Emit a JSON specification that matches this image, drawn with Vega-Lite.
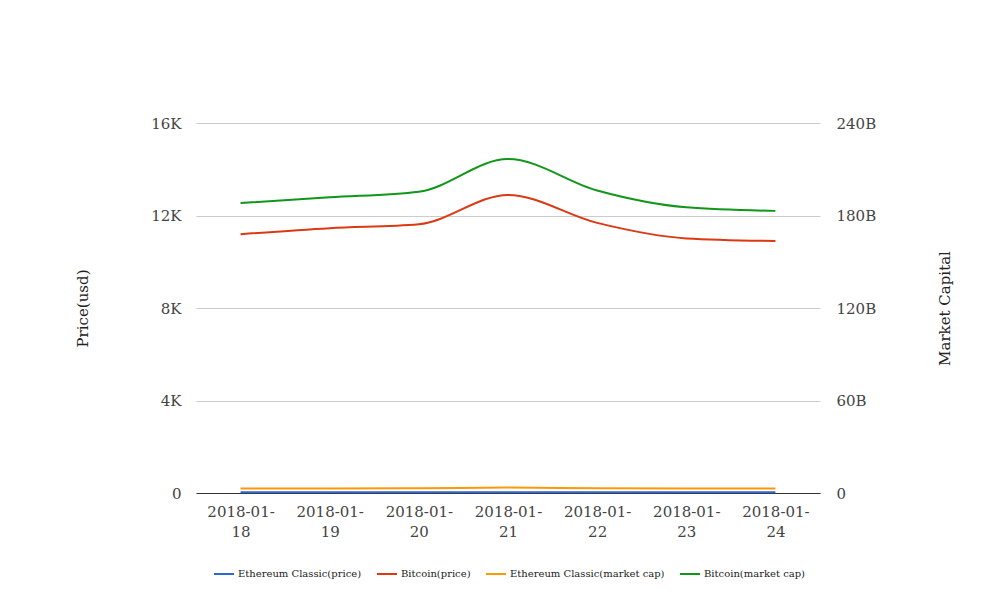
{
  "$schema": "https://vega.github.io/schema/vega-lite/v6.json",
  "width": 624,
  "height": 370,
  "autosize": {"type": "none"},
  "padding": {"left": 196, "top": 123, "right": 188, "bottom": 123},
  "background": "white",
  "config": {
    "font": "DejaVu Serif",
    "view": {"stroke": null},
    "axis": {"labelFont": "DejaVu Serif", "titleFont": "DejaVu Serif"},
    "legend": {"labelFont": "DejaVu Serif"}
  },
  "data": {
    "values": [
      {"date": "2018-01-18", "series": "Ethereum Classic(price)", "kind": "price", "value": 29},
      {"date": "2018-01-19", "series": "Ethereum Classic(price)", "kind": "price", "value": 30},
      {"date": "2018-01-20", "series": "Ethereum Classic(price)", "kind": "price", "value": 31},
      {"date": "2018-01-21", "series": "Ethereum Classic(price)", "kind": "price", "value": 35},
      {"date": "2018-01-22", "series": "Ethereum Classic(price)", "kind": "price", "value": 31},
      {"date": "2018-01-23", "series": "Ethereum Classic(price)", "kind": "price", "value": 29},
      {"date": "2018-01-24", "series": "Ethereum Classic(price)", "kind": "price", "value": 29},
      {"date": "2018-01-18", "series": "Bitcoin(price)", "kind": "price", "value": 11190},
      {"date": "2018-01-19", "series": "Bitcoin(price)", "kind": "price", "value": 11450},
      {"date": "2018-01-20", "series": "Bitcoin(price)", "kind": "price", "value": 11620},
      {"date": "2018-01-21", "series": "Bitcoin(price)", "kind": "price", "value": 12890},
      {"date": "2018-01-22", "series": "Bitcoin(price)", "kind": "price", "value": 11680},
      {"date": "2018-01-23", "series": "Bitcoin(price)", "kind": "price", "value": 11010},
      {"date": "2018-01-24", "series": "Bitcoin(price)", "kind": "price", "value": 10900},
      {"date": "2018-01-18", "series": "Ethereum Classic(market cap)", "kind": "cap", "value": 2900000000},
      {"date": "2018-01-19", "series": "Ethereum Classic(market cap)", "kind": "cap", "value": 3000000000},
      {"date": "2018-01-20", "series": "Ethereum Classic(market cap)", "kind": "cap", "value": 3100000000},
      {"date": "2018-01-21", "series": "Ethereum Classic(market cap)", "kind": "cap", "value": 3500000000},
      {"date": "2018-01-22", "series": "Ethereum Classic(market cap)", "kind": "cap", "value": 3100000000},
      {"date": "2018-01-23", "series": "Ethereum Classic(market cap)", "kind": "cap", "value": 2900000000},
      {"date": "2018-01-24", "series": "Ethereum Classic(market cap)", "kind": "cap", "value": 2900000000},
      {"date": "2018-01-18", "series": "Bitcoin(market cap)", "kind": "cap", "value": 188100000000},
      {"date": "2018-01-19", "series": "Bitcoin(market cap)", "kind": "cap", "value": 191800000000},
      {"date": "2018-01-20", "series": "Bitcoin(market cap)", "kind": "cap", "value": 195400000000},
      {"date": "2018-01-21", "series": "Bitcoin(market cap)", "kind": "cap", "value": 216600000000},
      {"date": "2018-01-22", "series": "Bitcoin(market cap)", "kind": "cap", "value": 196200000000},
      {"date": "2018-01-23", "series": "Bitcoin(market cap)", "kind": "cap", "value": 185300000000},
      {"date": "2018-01-24", "series": "Bitcoin(market cap)", "kind": "cap", "value": 183000000000}
    ]
  },
  "encoding": {
    "x": {
      "field": "date",
      "type": "ordinal",
      "scale": {"type": "point", "padding": 0.5},
      "axis": {
        "title": null,
        "labelAngle": 0,
        "labelExpr": "[substring(datum.label, 0, 8), substring(datum.label, 8)]",
        "labelFontSize": 15,
        "labelColor": "#444444",
        "labelPadding": 11,
        "labelLineHeight": 20,
        "ticks": false,
        "domainColor": "#333333",
        "domainWidth": 1,
        "grid": false
      }
    },
    "color": {
      "field": "series",
      "type": "nominal",
      "scale": {
        "domain": ["Ethereum Classic(price)", "Bitcoin(price)", "Ethereum Classic(market cap)", "Bitcoin(market cap)"],
        "range": ["#3366cc", "#dc3912", "#ff9900", "#109618"]
      },
      "legend": {
        "title": null,
        "orient": "none",
        "direction": "horizontal",
        "legendX": 17,
        "legendY": 440,
        "symbolType": "stroke",
        "symbolStrokeWidth": 2,
        "symbolSize": 400,
        "labelFontSize": 10,
        "labelColor": "#222222",
        "labelOffset": 3,
        "columnPadding": 11
      }
    }
  },
  "layer": [
    {
      "transform": [{"filter": "datum.kind == 'price'"}],
      "mark": {"type": "line", "interpolate": "monotone", "strokeWidth": 2},
      "encoding": {
        "y": {
          "field": "value",
          "type": "quantitative",
          "scale": {"domain": [0, 16000], "nice": false},
          "axis": {
            "title": "Price(usd)",
            "orient": "left",
            "values": [0, 4000, 8000, 12000, 16000],
            "labelExpr": "datum.value == 0 ? '0' : (datum.value / 1000) + 'K'",
            "labelFontSize": 15,
            "labelColor": "#444444",
            "labelPadding": 15,
            "ticks": false,
            "domain": false,
            "gridColor": "#cccccc",
            "titleFontSize": 15,
            "titleFontWeight": "normal",
            "titleColor": "#222222",
            "titleX": -114,
            "titleY": 185,
            "titleAngle": -90,
            "titleAlign": "center",
            "titleBaseline": "middle"
          }
        }
      }
    },
    {
      "transform": [{"filter": "datum.kind == 'cap'"}],
      "mark": {"type": "line", "interpolate": "monotone", "strokeWidth": 2},
      "encoding": {
        "y": {
          "field": "value",
          "type": "quantitative",
          "scale": {"domain": [0, 240000000000], "nice": false},
          "axis": {
            "title": "Market Capital",
            "orient": "right",
            "values": [0, 60000000000, 120000000000, 180000000000, 240000000000],
            "labelExpr": "datum.value == 0 ? '0' : (datum.value / 1000000000) + 'B'",
            "labelFontSize": 15,
            "labelColor": "#444444",
            "labelPadding": 16,
            "ticks": false,
            "domain": false,
            "grid": false,
            "titleFontSize": 15,
            "titleFontWeight": "normal",
            "titleColor": "#222222",
            "titleX": 124,
            "titleY": 185,
            "titleAngle": -90,
            "titleAlign": "center",
            "titleBaseline": "middle"
          }
        }
      }
    }
  ],
  "resolve": {"scale": {"y": "independent"}}
}
